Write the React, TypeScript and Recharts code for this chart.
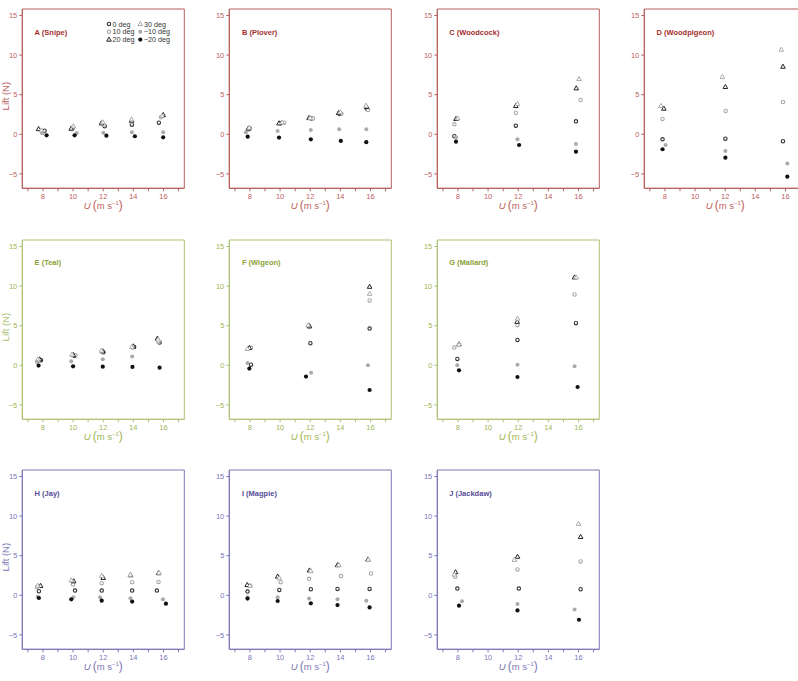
import React from 'react'
import { ScatterChart, Scatter, XAxis, YAxis, ReferenceArea, Legend } from 'recharts'

type Pair = [number, number]
type PanelData = { d0: Pair[]; d10: Pair[]; d20: Pair[]; d30: Pair[]; dm10: Pair[]; dm20: Pair[] }

// [U (m/s), lift (N)] per angle of attack
const snipe: PanelData = {
  d0: [[8.11, 0.46], [9.97, 0.84], [12.1, 1.01], [13.9, 1.22], [15.69, 1.47]],
  d10: [[7.96, 0.21], [9.9, 0.63], [12.03, 1.22], [13.86, 1.56], [15.83, 2.15]],
  d20: [[7.71, 0.67], [9.88, 0.72], [11.88, 1.39], [13.88, 1.73], [15.98, 2.44]],
  d30: [[7.9, 0.5], [10.02, 1.01], [11.97, 1.52], [13.88, 1.89], [15.9, 2.31]],
  dm10: [[7.96, 0.13], [10.24, 0.17], [12.01, 0.21], [13.9, 0.25], [15.98, 0.25]],
  dm20: [[8.24, -0.13], [10.1, -0.13], [12.21, -0.17], [14.1, -0.25], [15.98, -0.38]],
}

const plover: PanelData = {
  d0: [[7.98, 0.72], [10.04, 1.39], [12.08, 1.98], [13.96, 2.57], [15.78, 3.2]],
  d10: [[7.9, 0.6], [10.28, 1.47], [12.19, 1.98], [14.07, 2.6], [15.83, 3.07]],
  d20: [[7.89, 0.72], [9.93, 1.39], [11.92, 2.06], [13.88, 2.69], [15.74, 3.45]],
  d30: [[7.95, 0.84], [10.13, 1.5], [12.0, 2.05], [14.0, 2.78], [15.7, 3.62]],
  dm10: [[7.73, 0.25], [9.84, 0.42], [12.04, 0.55], [13.92, 0.63], [15.72, 0.63]],
  dm20: [[7.85, -0.3], [9.93, -0.42], [12.04, -0.63], [14.03, -0.84], [15.72, -1.0]],
}

const woodcock: PanelData = {
  d0: [[7.76, -0.25], [11.84, 1.09], [15.83, 1.64]],
  d10: [[7.76, 1.26], [11.84, 2.69], [16.14, 4.33]],
  d20: [[7.87, 1.94], [11.84, 3.58], [15.85, 5.81]],
  d30: [[7.98, 2.02], [11.95, 3.83], [16.03, 6.99]],
  dm10: [[7.87, -0.42], [11.95, -0.63], [15.83, -1.22]],
  dm20: [[7.87, -0.93], [12.06, -1.35], [15.83, -2.19]],
}

const woodpigeon: PanelData = {
  d0: [[7.84, -0.63], [12.01, -0.55], [15.83, -0.88]],
  d10: [[7.84, 1.94], [12.03, 2.95], [15.83, 4.08]],
  d20: [[7.93, 3.24], [12.01, 5.98], [15.83, 8.54]],
  d30: [[7.73, 3.58], [11.81, 7.24], [15.72, 10.69]],
  dm10: [[8.04, -1.35], [12.01, -2.1], [16.12, -3.7]],
  dm20: [[7.84, -1.89], [12.01, -2.95], [16.12, -5.35]],
}

const teal: PanelData = {
  d0: [[7.87, 0.63], [10.1, 1.18], [12.01, 1.64], [14.05, 2.32], [15.74, 2.87]],
  d10: [[7.69, 0.5], [10.16, 1.26], [11.95, 1.69], [13.96, 2.24], [15.65, 3.0]],
  d20: [[7.78, 0.76], [10.02, 1.3], [11.97, 1.77], [14.0, 2.4], [15.6, 3.38]],
  d30: [[7.65, 0.72], [9.93, 1.35], [11.88, 1.85], [13.9, 2.32], [15.65, 3.25]],
  dm10: [[7.6, 0.42], [9.88, 0.5], [11.97, 0.76], [13.92, 1.1]],
  dm20: [[7.71, -0.04], [10.0, -0.13], [11.97, -0.17], [13.94, -0.21], [15.74, -0.3]],
}

const wigeon: PanelData = {
  d0: [[8.07, 0.08], [12.01, 2.78], [15.94, 4.64]],
  d10: [[8.07, 2.2], [11.95, 4.85], [15.94, 8.19]],
  d20: [[7.96, 2.19], [11.95, 4.94], [15.94, 9.92]],
  d30: [[7.84, 2.07], [11.86, 5.06], [15.94, 9.03]],
  dm10: [[7.84, 0.3], [12.06, -0.93], [15.83, 0.0]],
  dm20: [[7.96, -0.42], [11.72, -1.43], [15.94, -3.12]],
}

const mallard: PanelData = {
  d0: [[7.96, 0.8], [11.95, 3.2], [15.83, 5.32]],
  d10: [[7.76, 2.24], [11.95, 5.06], [15.74, 8.94]],
  d20: [[8.07, 2.66], [11.93, 5.5], [15.74, 11.1]],
  d30: [[8.07, 2.62], [11.95, 5.9], [15.85, 11.1]],
  dm10: [[7.96, 0.0], [11.95, 0.08], [15.74, -0.13]],
  dm20: [[8.07, -0.63], [11.95, -1.48], [15.94, -2.74]],
}

const jay: PanelData = {
  d0: [[7.73, 0.51], [10.13, 0.59], [11.9, 0.59], [13.92, 0.59], [15.56, 0.59]],
  d10: [[7.6, 1.02], [10.0, 1.36], [11.9, 1.53], [13.92, 1.65], [15.67, 1.69]],
  d20: [[7.84, 1.19], [10.04, 1.78], [12.0, 2.2], [13.81, 2.54], [15.67, 2.8]],
  d30: [[7.65, 1.23], [9.88, 1.9], [11.9, 2.46], [13.8, 2.6], [15.7, 2.85]],
  dm10: [[7.65, -0.17], [10.02, -0.25], [11.79, -0.25], [13.81, -0.38], [15.96, -0.51]],
  dm20: [[7.73, -0.34], [9.88, -0.51], [11.9, -0.68], [13.92, -0.8], [16.16, -1.06]],
}

const magpie: PanelData = {
  d0: [[7.84, 0.47], [9.95, 0.68], [12.04, 0.76], [13.81, 0.8], [15.94, 0.8]],
  d10: [[8.02, 1.19], [10.04, 1.65], [11.92, 2.08], [14.04, 2.42], [16.03, 2.75]],
  d20: [[7.82, 1.31], [9.84, 2.37], [11.95, 3.14], [13.81, 3.81], [15.83, 4.53]],
  d30: [[8.0, 1.19], [9.95, 2.16], [12.04, 3.05], [13.9, 3.81], [15.85, 4.5]],
  dm10: [[7.84, -0.25], [9.84, -0.25], [11.92, -0.42], [13.81, -0.51], [15.72, -0.68]],
  dm20: [[7.84, -0.42], [9.84, -0.72], [12.04, -1.02], [13.81, -1.23], [15.94, -1.53]],
}

const jackdaw: PanelData = {
  d0: [[7.96, 0.85], [12.04, 0.85], [16.14, 0.76]],
  d10: [[7.82, 2.33], [11.95, 3.26], [16.14, 4.28]],
  d20: [[7.84, 2.92], [11.95, 4.87], [16.14, 7.37]],
  d30: [[7.76, 2.63], [11.75, 4.49], [16.0, 9.03]],
  dm10: [[8.27, -0.76], [11.95, -1.1], [15.74, -1.78]],
  dm20: [[8.07, -1.31], [11.95, -1.91], [16.03, -3.09]],
}

const seriesKeys = ['d0', 'd10', 'd20', 'd30', 'dm10', 'dm20'] as const
type SeriesKey = typeof seriesKeys[number]
const seriesNames: Record<SeriesKey, string> = {
  d0: '0 deg', d10: '10 deg', d20: '20 deg', d30: '30 deg', dm10: '\u221210 deg', dm20: '\u221220 deg',
}

const xTicks = [7, 8, 9, 10, 11, 12, 13, 14, 15, 16, 17]
const yTicks = [-5, 0, 5, 10, 15]

const rowColors = [
  { frame: '#b5605c', text: '#c0625e', title: '#a32e2e' },
  { frame: '#adc174', text: '#9fb655', title: '#88a236' },
  { frame: '#7d76b6', text: '#7d77b8', title: '#564c98' },
]

const panels = [
  { title: 'A (Snipe)', data: snipe, row: 0, col: 0 },
  { title: 'B (Plover)', data: plover, row: 0, col: 1 },
  { title: 'C (Woodcock)', data: woodcock, row: 0, col: 2 },
  { title: 'D (Woodpigeon)', data: woodpigeon, row: 0, col: 3 },
  { title: 'E (Teal)', data: teal, row: 1, col: 0 },
  { title: 'F (Wigeon)', data: wigeon, row: 1, col: 1 },
  { title: 'G (Mallard)', data: mallard, row: 1, col: 2 },
  { title: 'H (Jay)', data: jay, row: 2, col: 0 },
  { title: 'I (Magpie)', data: magpie, row: 2, col: 1 },
  { title: 'J (Jackdaw)', data: jackdaw, row: 2, col: 2 },
]

// panel geometry
const CW = 207
const CH = 230
const COL_STEP = 207.3
const ROW_STEP = 230.5
const PLOT_L = 22.3
const PLOT_T = 9
const PLOT_W = 162
const PLOT_H = 179.3
const X_DOMAIN: [number, number] = [6.63, 17.38]
const Y_DOMAIN: [number, number] = [-6.82, 15.82]

function marker(kind: SeriesKey, cx: number, cy: number) {
  switch (kind) {
    case 'd0':
      return <circle cx={cx} cy={cy} r={1.7} fill="#fff" stroke="#333" strokeWidth={1.1} />
    case 'd10':
      return <circle cx={cx} cy={cy} r={1.7} fill="#fff" stroke="#aaa" strokeWidth={1.1} />
    case 'd20':
      return (
        <polygon
          points={`${cx},${cy - 2.5} ${cx - 2.3},${cy + 1.6} ${cx + 2.3},${cy + 1.6}`}
          fill="#fff" stroke="#222" strokeWidth={1}
        />
      )
    case 'd30':
      return (
        <polygon
          points={`${cx},${cy - 2.5} ${cx - 2.3},${cy + 1.6} ${cx + 2.3},${cy + 1.6}`}
          fill="#fff" stroke="#aaa" strokeWidth={1}
        />
      )
    case 'dm10':
      return <circle cx={cx} cy={cy} r={2} fill="#aaa" />
    default:
      return <circle cx={cx} cy={cy} r={2.1} fill="#111" />
  }
}

function LegendBox() {
  const cols: SeriesKey[][] = [['d0', 'd10', 'd20'], ['d30', 'dm10', 'dm20']]
  return (
    <svg width={72} height={26} style={{ display: 'block' }}>
      {cols.map((col, ci) =>
        col.map((k, ri) => (
          <g key={k}>
            {marker(k, 5 + ci * 31.3, 5 + ri * 7.8)}
            <text x={8.6 + ci * 31.3} y={5 + ri * 7.8} dy="0.35em" fontSize={7.2} fill="#333">
              {seriesNames[k]}
            </text>
          </g>
        ))
      )}
    </svg>
  )
}

const xTitle = (color: string) => (props: any) => {
  const vb = props.viewBox
  return (
    <text x={vb.x + vb.width / 2} y={vb.y + 21} textAnchor="middle" fill={color} fontSize={9.5}>
      <tspan fontStyle="italic">U</tspan>
      <tspan fontSize={12} dx={2}>(</tspan>
      <tspan>m s</tspan>
      <tspan fontSize={6} dy={-4}>{'\u22121'}</tspan>
      <tspan fontSize={12} dy={4}>)</tspan>
    </text>
  )
}

const yTitle = (color: string) => (props: any) => {
  const vb = props.viewBox
  const cy = vb.y + vb.height / 2 - 2.5
  return (
    <text x={9.5} y={cy} transform={`rotate(-90 9.5 ${cy})`} textAnchor="middle" fill={color} fontSize={9.5}>
      Lift (N)
    </text>
  )
}

function Panel({ p }: { p: typeof panels[number] }) {
  const c = rowColors[p.row]
  return (
    <div style={{ position: 'absolute', left: p.col * COL_STEP, top: p.row * ROW_STEP, width: CW, height: CH }}>
      <ScatterChart
        width={CW}
        height={CH}
        margin={{ top: PLOT_T, right: CW - PLOT_L - PLOT_W, bottom: 0, left: 0 }}
      >
        <XAxis
          type="number"
          dataKey="u"
          domain={X_DOMAIN}
          allowDataOverflow
          ticks={xTicks}
          interval={0}
          tickFormatter={(v: number) => (v % 2 === 0 ? String(v) : '')}
          height={CH - PLOT_T - PLOT_H}
          tickSize={3}
          tick={{ fill: c.text, fontSize: 7.5 }}
          tickLine={{ stroke: c.frame }}
          axisLine={{ stroke: c.frame }}
          label={xTitle(c.text)}
        />
        <YAxis
          type="number"
          dataKey="lift"
          domain={Y_DOMAIN}
          allowDataOverflow
          ticks={yTicks}
          interval={0}
          tickFormatter={(v: number) => (v < 0 ? '\u2212' + Math.abs(v) : String(v))}
          width={PLOT_L}
          tickSize={3}
          tick={{ fill: c.text, fontSize: 7.5 }}
          tickLine={{ stroke: c.frame }}
          axisLine={{ stroke: c.frame }}
          label={p.col === 0 ? yTitle(c.frame) : undefined}
        />
        <ReferenceArea
          x1={X_DOMAIN[0]}
          x2={X_DOMAIN[1]}
          y1={Y_DOMAIN[0]}
          y2={Y_DOMAIN[1]}
          fill="none"
          stroke={c.frame}
          strokeWidth={1}
          ifOverflow="visible"
        />
        {seriesKeys.map(k => (
          <Scatter
            key={k}
            name={seriesNames[k]}
            data={p.data[k].map(([u, lift]) => ({ u, lift }))}
            isAnimationActive={false}
            shape={(sp: any) => marker(k, sp.cx, sp.cy)}
          />
        ))}
        {p.row === 0 && p.col === 0 && (
          <Legend
            layout="vertical"
            align="center"
            verticalAlign="middle"
            content={() => <LegendBox />}
            wrapperStyle={{ left: 104, top: 19, width: 72, height: 26 }}
          />
        )}
      </ScatterChart>
      <div
        style={{
          position: 'absolute',
          left: PLOT_L + 12.3,
          top: PLOT_T + 18.5,
          fontSize: 7.5,
          lineHeight: '9px',
          fontWeight: 'bold',
          color: c.title,
          whiteSpace: 'nowrap',
        }}
      >
        {p.title}
      </div>
    </div>
  )
}

export default function App() {
  return (
    <div
      style={{
        position: 'absolute',
        left: 0,
        top: 0,
        width: 798,
        height: 681,
        overflow: 'hidden',
        background: '#fff',
        fontFamily: '"Liberation Sans", Arial, sans-serif',
      }}
    >
      {panels.map(p => (
        <Panel key={p.title} p={p} />
      ))}
    </div>
  )
}
